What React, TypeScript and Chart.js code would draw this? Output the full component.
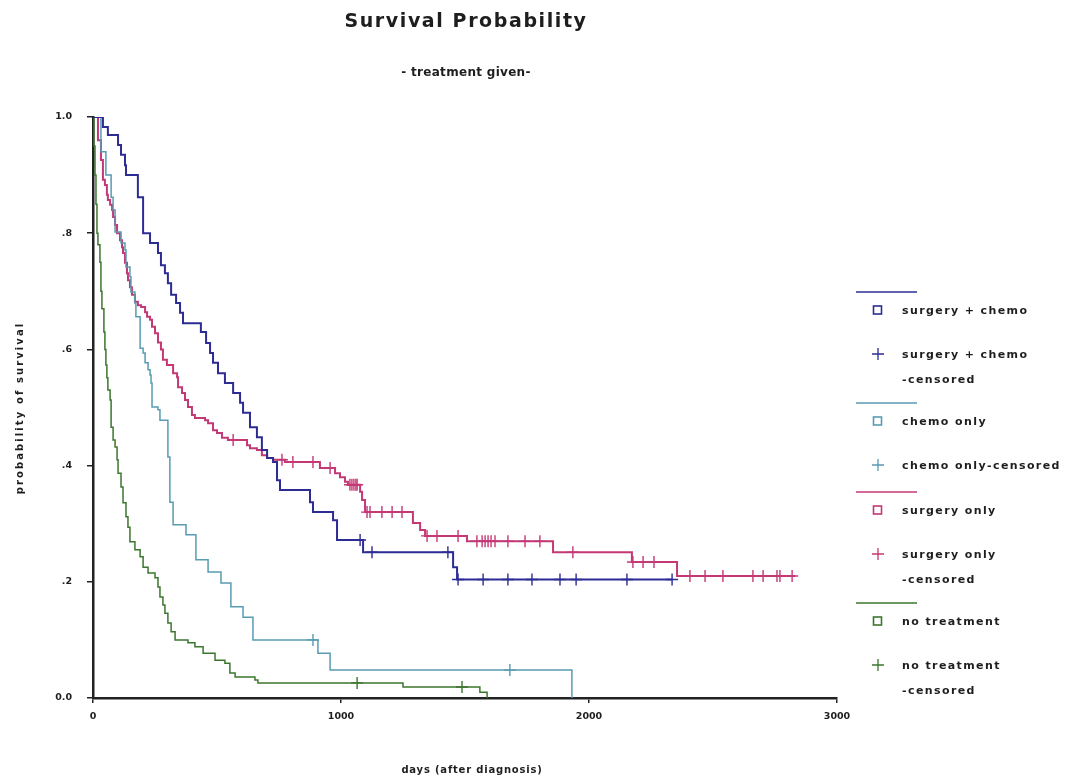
import React, { useEffect, useRef } from 'react';
import { Chart, registerables } from 'chart.js';

Chart.register(...registerables);

// ---------- tick values / labels ----------
const X_TICKS = [0, 1000, 2000, 3000];
const X_TICK_LABELS = ['0', '1000', '2000', '3000'];
const Y_TICKS = [0, 0.2, 0.4, 0.6, 0.8, 1.0];
const Y_TICK_LABELS = ['0.0', '.2', '.4', '.6', '.8', '1.0'];

const TITLE = 'Survival Probability';
const SUBTITLE = '- treatment given-';
const X_TITLE = 'days (after diagnosis)';
const Y_TITLE = 'probability of survival';

// ---------- surgery + chemo ----------
const SC_TIME = [0, 40, 60, 101, 113, 129, 133, 181, 202, 230, 262, 274, 290, 302, 315, 335, 351, 363, 435, 456, 472, 484, 504, 532, 565, 593, 605, 633, 661, 681, 702, 726, 742, 754, 875, 887, 968, 984, 1089, 1452, 1468, 2335];
const SC_SURV = [1.0, 0.983, 0.969, 0.952, 0.935, 0.917, 0.900, 0.862, 0.800, 0.783, 0.766, 0.745, 0.731, 0.714, 0.694, 0.680, 0.663, 0.645, 0.630, 0.611, 0.594, 0.577, 0.559, 0.542, 0.525, 0.508, 0.491, 0.466, 0.449, 0.427, 0.413, 0.406, 0.375, 0.358, 0.337, 0.320, 0.306, 0.272, 0.251, 0.225, 0.204, 0.204];
const SC_CENSORED = [1077, 1125, 1431, 1472, 1573, 1673, 1770, 1883, 1948, 2153, 2335];

// ---------- chemo only ----------
const CH_TIME = [0, 32, 52, 73, 81, 89, 113, 129, 133, 149, 153, 169, 173, 190, 202, 210, 222, 230, 234, 238, 262, 270, 302, 310, 323, 375, 415, 464, 516, 556, 605, 645, 907, 956, 1931];
const CH_SURV = [1.0, 0.940, 0.900, 0.862, 0.840, 0.802, 0.783, 0.771, 0.742, 0.725, 0.699, 0.680, 0.656, 0.602, 0.594, 0.577, 0.565, 0.556, 0.542, 0.501, 0.496, 0.478, 0.415, 0.337, 0.298, 0.281, 0.238, 0.217, 0.198, 0.157, 0.139, 0.100, 0.077, 0.048, 0.0];
const CH_CENSORED = [887, 1681];

// ---------- surgery only ----------
const SO_TIME = [0, 20, 32, 40, 48, 56, 60, 69, 77, 81, 89, 97, 109, 117, 121, 129, 137, 141, 149, 157, 169, 181, 194, 210, 218, 230, 238, 250, 262, 274, 282, 298, 323, 339, 343, 359, 371, 383, 399, 411, 452, 464, 484, 500, 520, 544, 621, 633, 661, 681, 702, 726, 774, 915, 976, 996, 1016, 1028, 1077, 1085, 1097, 1290, 1319, 1339, 1508, 1855, 2173, 2355, 2831];
const SO_SURV = [1.0, 0.960, 0.926, 0.892, 0.883, 0.866, 0.857, 0.849, 0.840, 0.828, 0.814, 0.800, 0.788, 0.776, 0.766, 0.749, 0.731, 0.719, 0.707, 0.694, 0.682, 0.676, 0.673, 0.664, 0.656, 0.651, 0.639, 0.628, 0.612, 0.600, 0.582, 0.573, 0.559, 0.552, 0.535, 0.525, 0.513, 0.501, 0.487, 0.482, 0.478, 0.473, 0.461, 0.456, 0.448, 0.444, 0.435, 0.430, 0.427, 0.418, 0.413, 0.410, 0.406, 0.396, 0.387, 0.380, 0.372, 0.367, 0.355, 0.341, 0.320, 0.301, 0.289, 0.279, 0.270, 0.251, 0.234, 0.210, 0.210];
const SO_CENSORED = [565, 762, 806, 887, 956, 1036, 1044, 1052, 1060, 1065, 1105, 1117, 1165, 1206, 1246, 1347, 1387, 1472, 1548, 1569, 1581, 1593, 1605, 1621, 1673, 1742, 1802, 1935, 2177, 2218, 2262, 2407, 2468, 2540, 2661, 2702, 2758, 2770, 2819];

// ---------- no treatment ----------
const NT_TIME = [0, 4, 8, 12, 16, 20, 28, 32, 36, 44, 48, 52, 56, 60, 69, 73, 81, 89, 97, 101, 113, 121, 133, 141, 149, 169, 190, 202, 222, 250, 262, 270, 282, 290, 302, 315, 331, 383, 411, 444, 492, 532, 552, 573, 653, 665, 1250, 1560, 1589];
const NT_SURV = [1.0, 0.950, 0.900, 0.850, 0.800, 0.780, 0.750, 0.700, 0.670, 0.630, 0.600, 0.573, 0.551, 0.530, 0.513, 0.466, 0.444, 0.432, 0.410, 0.387, 0.363, 0.336, 0.312, 0.294, 0.269, 0.255, 0.243, 0.225, 0.215, 0.207, 0.191, 0.174, 0.160, 0.146, 0.129, 0.114, 0.100, 0.095, 0.088, 0.077, 0.065, 0.060, 0.043, 0.036, 0.031, 0.026, 0.019, 0.010, 0.0];
const NT_CENSORED = [1065, 1488];

// ---------- colours ----------
const C_SC = 'rgb(44,44,148)';
const C_CH = 'rgb(88,155,178)';
const C_SO = 'rgb(196,56,118)';
const C_NT = 'rgb(60,118,46)';
const TEXT = '#1e1e1e';
const FONT = '"DejaVu Sans", Verdana, sans-serif';

type Group = {
  color: string;
  time: number[];
  surv: number[];
  cens: number[];
  lineWidth: number;
  label: string[];
  censLabel: string[];
};

const GROUPS: Group[] = [
  { color: C_SC, time: SC_TIME, surv: SC_SURV, cens: SC_CENSORED, lineWidth: 2, label: ['surgery + chemo'], censLabel: ['surgery + chemo', '-censored'] },
  { color: C_CH, time: CH_TIME, surv: CH_SURV, cens: CH_CENSORED, lineWidth: 1.5, label: ['chemo only'], censLabel: ['chemo only-censored'] },
  { color: C_SO, time: SO_TIME, surv: SO_SURV, cens: SO_CENSORED, lineWidth: 2, label: ['surgery only'], censLabel: ['surgery only', '-censored'] },
  { color: C_NT, time: NT_TIME, surv: NT_SURV, cens: NT_CENSORED, lineWidth: 1.5, label: ['no treatment'], censLabel: ['no treatment', '-censored'] },
];

function levelAt(time: number[], surv: number[], t: number): number {
  let v = surv[0];
  for (let i = 0; i < time.length; i++) {
    if (time[i] <= t) v = surv[i];
    else break;
  }
  return v;
}

const LEGEND_TOPS = [292, 403, 492, 603];

const textPlugin = {
  id: 'kmText',
  afterDraw(chart: any) {
    const ctx = chart.ctx as CanvasRenderingContext2D;
    ctx.save();
    ctx.fillStyle = TEXT;
    ctx.textBaseline = 'middle';
    ctx.textAlign = 'center';
    const setFont = (size: number, spacing: number) => {
      ctx.font = `bold ${size}px ${FONT}`;
      (ctx as any).letterSpacing = `${spacing}px`;
    };
    setFont(19, 1.6);
    ctx.fillText(TITLE, 466, 22);
    setFont(12, 0.3);
    ctx.fillText(SUBTITLE, 466, 73);
    setFont(10, 0.8);
    ctx.fillText(X_TITLE, 472, 770);
    ctx.save();
    ctx.translate(20, 408);
    ctx.rotate(-Math.PI / 2);
    setFont(10, 2.1);
    ctx.fillText(Y_TITLE, 0, 0);
    ctx.restore();

    // legend
    ctx.textAlign = 'left';
    setFont(11, 1.4);
    GROUPS.forEach((g, i) => {
      const top = LEGEND_TOPS[i];
      ctx.strokeStyle = g.color;
      ctx.lineWidth = 1.5;
      ctx.beginPath();
      ctx.moveTo(856, top);
      ctx.lineTo(917, top);
      ctx.stroke();
      // square marker
      const sy = top + 18;
      ctx.lineWidth = 1.6;
      ctx.strokeRect(873.5, sy - 4, 8, 8);
      ctx.fillStyle = TEXT;
      g.label.forEach((l, k) => ctx.fillText(l, 902, sy + 1 + k * 25));
      // plus marker
      const py = top + 62;
      ctx.lineWidth = 1.3;
      ctx.beginPath();
      ctx.moveTo(872, py);
      ctx.lineTo(884, py);
      ctx.moveTo(878, py - 6);
      ctx.lineTo(878, py + 6);
      ctx.stroke();
      g.censLabel.forEach((l, k) => ctx.fillText(l, 902, py + 1 + k * 25));
    });
    ctx.restore();
  },
};

export default function App() {
  const ref = useRef<HTMLCanvasElement | null>(null);

  useEffect(() => {
    if (!ref.current) return;
    const datasets: any[] = [];
    GROUPS.forEach((g) => {
      datasets.push({
        data: g.time.map((t, i) => ({ x: t, y: g.surv[i] })),
        showLine: true,
        stepped: 'before',
        borderColor: g.color,
        borderWidth: g.lineWidth,
        pointRadius: 0,
        fill: false,
      });
    });
    GROUPS.forEach((g) => {
      datasets.push({
        data: g.cens.map((t) => ({ x: t, y: levelAt(g.time, g.surv, t) })),
        showLine: false,
        pointStyle: 'cross',
        pointRadius: 6,
        pointBorderWidth: 1.4,
        borderColor: g.color,
        backgroundColor: g.color,
      });
    });

    const tickFont = { family: FONT, weight: 'bold' as const, size: 9.5 };
    const chart = new Chart(ref.current, {
      type: 'scatter',
      data: { datasets },
      plugins: [textPlugin],
      options: {
        animation: false,
        responsive: false,
        layout: { padding: { left: 0, top: 117, right: 232, bottom: 0 } },
        plugins: {
          legend: { display: false },
          title: { display: false },
          tooltip: { enabled: false },
        },
        scales: {
          x: {
            type: 'linear',
            min: 0,
            max: 3000,
            afterBuildTicks: (s: any) => {
              s.ticks = X_TICKS.map((v) => ({ value: v }));
            },
            afterFit: (s: any) => {
              s.height = 77;
            },
            ticks: {
              autoSkip: false,
              maxRotation: 0,
              padding: 8,
              color: TEXT,
              font: tickFont,
              callback: (_v: any, i: number) => X_TICK_LABELS[i],
            },
            grid: { drawOnChartArea: false, drawTicks: true, tickLength: 5, color: '#222', lineWidth: 1.5 },
            border: { color: '#222', width: 2.5 },
          },
          y: {
            type: 'linear',
            min: 0,
            max: 1,
            afterBuildTicks: (s: any) => {
              s.ticks = Y_TICKS.map((v) => ({ value: v }));
            },
            afterFit: (s: any) => {
              s.width = 93;
            },
            ticks: {
              autoSkip: false,
              padding: 15,
              color: TEXT,
              font: tickFont,
              callback: (_v: any, i: number) => Y_TICK_LABELS[i],
            },
            grid: { drawOnChartArea: false, drawTicks: true, tickLength: 6, color: '#222', lineWidth: 1.5 },
            border: { color: '#222', width: 2.5 },
          },
        },
      } as any,
    });
    return () => chart.destroy();
  }, []);

  return (
    <div style={{ position: 'fixed', left: 0, top: 0, width: 1069, height: 775, background: '#fff' }}>
      <canvas ref={ref} width={1069} height={775} style={{ display: 'block' }} />
    </div>
  );
}
